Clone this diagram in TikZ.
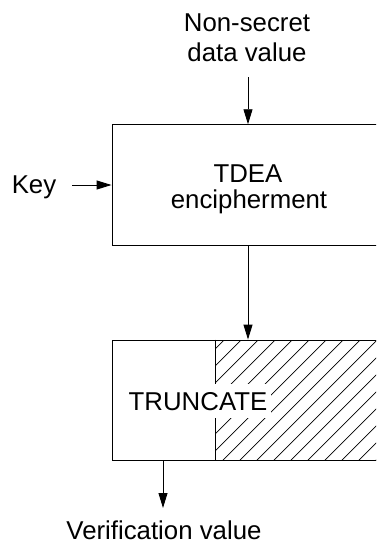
\documentclass[tikz,border=0pt]{standalone}
\usepackage{fontspec}
\setmainfont{Liberation Sans}
\usetikzlibrary{arrows.meta}
\begin{document}
\begin{tikzpicture}[x=1pt,y=-1pt,
  lbl/.style={font=\fontsize{25.8}{29}\selectfont, inner sep=0pt, anchor=base},
  boxst/.style={draw, line width=0.9pt, minimum width=272pt, inner sep=0pt},
  arr/.style={-{Triangle[length=15pt,width=9pt]}, line width=0.9pt},
  hatchst/.style={line width=0.7pt}]
\useasboundingbox (0,0) rectangle (376,544);
\clip (0,0) rectangle (376,544);
% texts
\node[lbl] (ns1) at (247,31.7) {Non-secret};
\node[lbl] (ns2) at (247,61.7) {data value};
\node[lbl] (key) at (34,193) {Key};
% boxes
\node[boxst, minimum height=120.3pt] (box1) at (248,184.85) {};
\node[lbl] (tdea1) at (248,182) {TDEA};
\node[lbl] (tdea2) at (249,208) {encipherment};
\coordinate (div) at (215,0);
\begin{scope}
  \clip (215,340) rectangle (384,460.5);
  \foreach \k in {-8,...,17} \draw[hatchst] (224+17*\k,340) -- ++(-125,125);
\end{scope}
\node[boxst, minimum height=120.5pt] (box2) at (248,400.25) {};
\draw[line width=0.9pt] (box2.north -| div) -- (box2.south -| div);
\node[lbl, fill=white, inner xsep=4pt, inner ysep=8pt, text height=18.5pt, text depth=0pt] (trunc) at (198,410) {TRUNCATE};
\node[lbl] (ver) at (164,539.5) {Verification value};
% connectors
\coordinate (topst) at (248,77);
\coordinate (keyst) at (72,185);
\coordinate (outx) at (163,508);
\draw[arr] (topst) -- (box1.north);
\draw[arr] (keyst) -- (box1.west |- keyst);
\draw[arr] (box1.south) -- (box2.north);
\draw[arr] (box2.south -| outx) -- (outx);
\end{tikzpicture}
\end{document}
